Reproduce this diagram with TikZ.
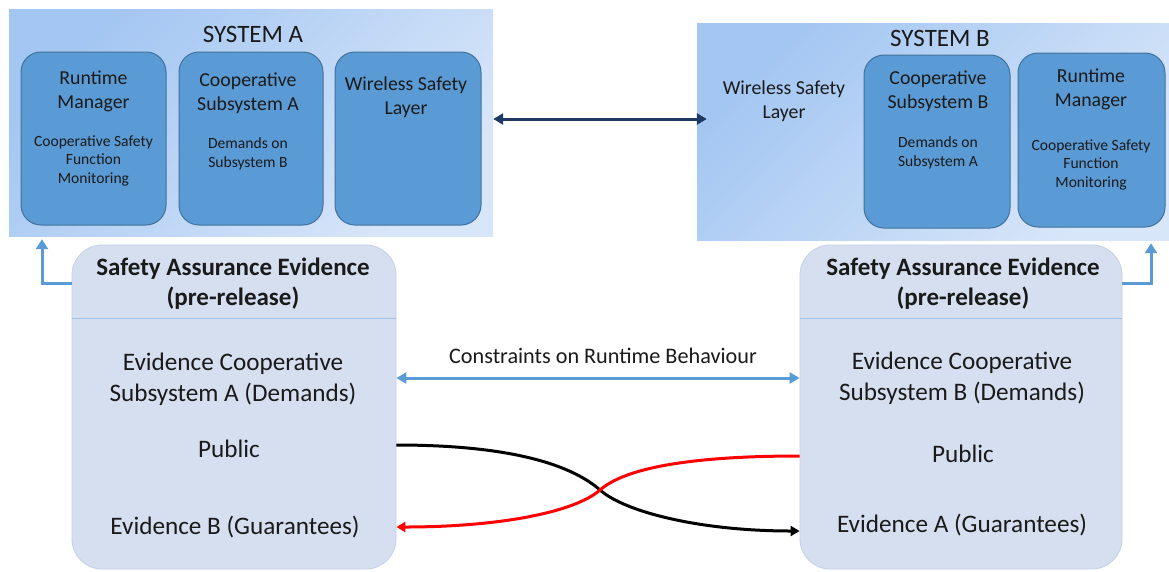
\documentclass[tikz,border=0pt]{standalone}
\usepackage{fontspec}
\setmainfont{Carlito}
\usetikzlibrary{arrows.meta}
\definecolor{subfill}{HTML}{5B9BD5}
\definecolor{subdraw}{HTML}{41719C}
\definecolor{evfill}{HTML}{D6DFEF}
\definecolor{evdraw}{HTML}{C3D0E6}
\definecolor{sepline}{HTML}{9DC3E6}
\definecolor{navy}{HTML}{1F3864}
\definecolor{sysdark}{HTML}{A3C6F2}
\definecolor{syslight}{HTML}{D8E6F9}
\definecolor{txt}{HTML}{1A1A1A}
\definecolor{bluearr}{HTML}{5B9BD5}
\begin{document}
\begin{tikzpicture}[x=1pt,y=-1pt,
  sysbox/.style={rectangle, inner sep=0pt, shading=axis, top color=sysdark, bottom color=syslight, shading angle=45},
  subbox/.style={rectangle, rounded corners=20pt, fill=subfill, draw=subdraw, line width=1pt, inner sep=0pt},
  evbox/.style={rectangle, rounded corners=30pt, fill=evfill, draw=evdraw, line width=0.8pt, inner sep=0pt},
  systitle/.style={anchor=base, inner sep=0pt, text=txt, font=\fontsize{25}{29}\selectfont},
  subtitle/.style={anchor=base, inner sep=0pt, align=center, text=txt, font=\fontsize{19.8}{23.5}\selectfont},
  subsmall/.style={anchor=base, inner sep=0pt, align=center, text=txt, font=\fontsize{15.6}{18.3}\selectfont},
  evtitle/.style={anchor=base, inner sep=0pt, align=center, text=txt, font=\bfseries\fontsize{25}{30}\selectfont},
  evtext/.style={anchor=base, inner sep=0pt, align=center, text=txt, font=\fontsize{25.2}{31}\selectfont},
  lbl/.style={anchor=base, inner sep=0pt, text=txt, font=\fontsize{22.2}{26}\selectfont},
  navyarrow/.style={draw=navy, line width=3pt, {Triangle[length=10pt,width=11pt]}-{Triangle[length=10pt,width=11pt]}},
  bluedbl/.style={draw=bluearr, line width=3pt, {Triangle[length=10pt,width=11pt]}-{Triangle[length=10pt,width=11pt]}},
  blueup/.style={draw=bluearr, line width=3pt, -{Triangle[length=10pt,width=12pt]}},
  flowline/.style={line width=3pt, -{Triangle[length=9pt,width=10pt]}},
]
\useasboundingbox (0,0) rectangle (1169,571);
\fill[white] (0,0) rectangle (1169,571);

% systems
\node[sysbox, minimum width=484pt, minimum height=227pt] (sysA) at (251,122.5) {};
\node[sysbox, minimum width=472pt, minimum height=217pt] (sysB) at (933,131.5) {};

\node[systitle] (sysAt) at (253,42) {SYSTEM A};
\node[systitle] (sysBt) at (940,46) {SYSTEM B};

\node[subbox, minimum width=145pt, minimum height=173pt] (rmA) at (93.5,138.5) {};
\node[subbox, minimum width=144pt, minimum height=173pt] (csA) at (251,138.5) {};
\node[subbox, minimum width=146pt, minimum height=173pt] (wslA) at (408,138.5) {};
\node[subbox, minimum width=146pt, minimum height=173pt] (csB) at (937,141.5) {};
\node[subbox, minimum width=147pt, minimum height=174pt] (rmB) at (1091.5,140) {};

\node[subtitle] (rmAt) at (93.5,108) {Runtime\\Manager};
\node[subsmall] (rmAs) at (93.5,183) {Cooperative Safety\\Function\\Monitoring};
\node[subtitle] (csAt) at (248,110) {Cooperative\\Subsystem A};
\node[subsmall] (csAs) at (248,167) {Demands on\\Subsystem B};
\node[subtitle] (wslAt) at (406,114) {Wireless Safety\\Layer};

\node[subtitle] (wslBt) at (784,118) {Wireless Safety\\Layer};
\node[subtitle] (csBt) at (938,108) {Cooperative\\Subsystem B};
\node[subsmall] (csBs) at (938,166) {Demands on\\Subsystem A};
\node[subtitle] (rmBt) at (1091,106) {Runtime\\Manager};
\node[subsmall] (rmBs) at (1091,187) {Cooperative Safety\\Function\\Monitoring};

% evidence boxes
\node[evbox, minimum width=324pt, minimum height=324pt] (evA) at (234,407) {};
\node[evbox, minimum width=322pt, minimum height=324pt] (evB) at (961,407) {};
\draw[sepline, line width=0.8pt] (evA.west |- 0,318) -- (evA.east |- 0,318);
\draw[sepline, line width=0.8pt] (evB.west |- 0,318) -- (evB.east |- 0,318);

\node[evtitle] (evAt) at (233,305) {Safety Assurance Evidence\\(pre-release)};
\node[evtext] (evAc) at (233,401) {Evidence Cooperative\\Subsystem A (Demands)};
\node[evtext] (evAp) at (229,457) {Public};
\node[evtext] (evAg) at (235,534) {Evidence B (Guarantees)};

\node[evtitle] (evBt) at (963,305) {Safety Assurance Evidence\\(pre-release)};
\node[evtext] (evBc) at (962,400) {Evidence Cooperative\\Subsystem B (Demands)};
\node[evtext] (evBp) at (963,462) {Public};
\node[evtext] (evBg) at (962,532) {Evidence A (Guarantees)};

% connectors
\draw[navyarrow] (sysA.east |- 0,119) -- ([xshift=10pt]sysB.west |- 0,119);
\draw[blueup] (evA.west |- 0,283) -| ([yshift=-3pt]sysA.south -| 42,0);
\draw[blueup] (evB.east |- 0,283) -| ([yshift=-3pt]sysB.south -| 1151,0);
\draw[bluedbl] (evA.east |- 0,378) -- (evB.west |- 0,378);
\node[lbl] (cons) at (603,363) {Constraints on Runtime Behaviour};

\draw[flowline, draw=black] (evA.east |- 0,445) .. controls (520,445) and (575,468) .. (600,490)
   .. controls (625,512) and (700,531) .. (evB.west |- 0,531);
\draw[flowline, draw=red] (evB.west |- 0,456) .. controls (690,456) and (625,468) .. (600,490)
   .. controls (575,512) and (500,527) .. (evA.east |- 0,527);
\end{tikzpicture}
\end{document}
